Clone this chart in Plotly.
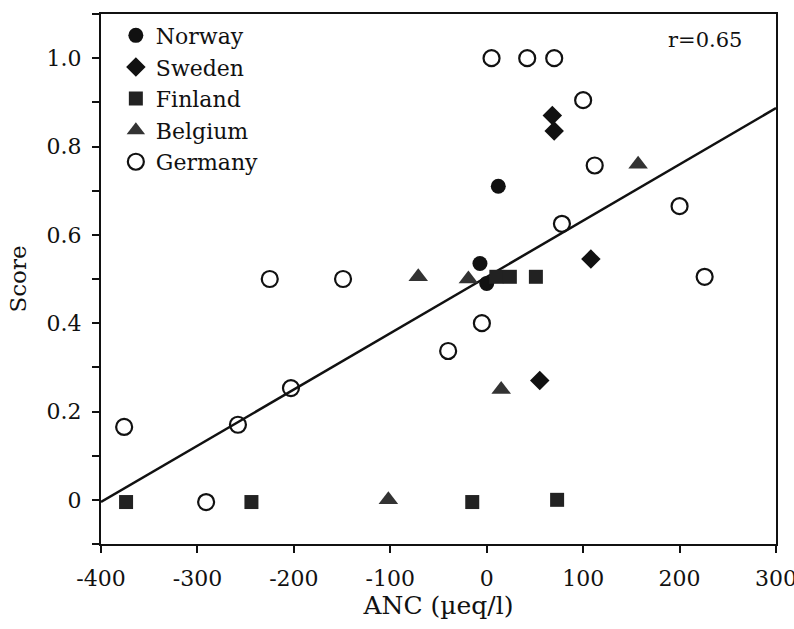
import plotly.graph_objects as go

# ---- data ----
norway_x = [12, -7, 0]
norway_y = [0.71, 0.535, 0.49]

sweden_x = [68, 70, 108, 55]
sweden_y = [0.87, 0.835, 0.545, 0.27]

finland_x = [10, 24, 51, -374, -244, -15, 73]
finland_y = [0.505, 0.505, 0.505, -0.005, -0.005, -0.005, 0.0]

belgium_x = [-71, -19, 15, -102, 157]
belgium_y = [0.505, 0.50, 0.25, 0.0, 0.76]

germany_x = [-376, -291, -258, -203, -225, -149, -40, -5, 78, 200, 226, 112, 100, 5, 42, 70]
germany_y = [0.165, -0.005, 0.17, 0.253, 0.50, 0.50, 0.337, 0.40, 0.625, 0.665, 0.505, 0.757, 0.905, 1.0, 1.0, 1.0]

fit_x = [-400, 300]
fit_y = [-0.005, 0.887]

x_ticks = [-400, -300, -200, -100, 0, 100, 200, 300]
x_ticktext = ["-400", "-300", "-200", "-100", "0", "100", "200", "300"]
y_ticks = [-0.1, 0.0, 0.1, 0.2, 0.3, 0.4, 0.5, 0.6, 0.7, 0.8, 0.9, 1.0, 1.1]
y_ticktext = ["", "0", "", "0.2", "", "0.4", "", "0.6", "", "0.8", "", "1.0", ""]

FONT = "DejaVu Serif"

fig = go.Figure()

fig.add_trace(go.Scatter(x=fit_x, y=fit_y, mode="lines",
                         line=dict(color="#111111", width=2.5), showlegend=False,
                         hoverinfo="skip"))

fig.add_trace(go.Scatter(x=norway_x, y=norway_y, mode="markers", name="Norway",
                         marker=dict(symbol="circle", size=15, color="#111111",
                                     line=dict(width=0))))
fig.add_trace(go.Scatter(x=sweden_x, y=sweden_y, mode="markers", name="Sweden",
                         marker=dict(symbol="diamond", size=15, color="#111111",
                                     line=dict(width=0))))
fig.add_trace(go.Scatter(x=finland_x, y=finland_y, mode="markers", name="Finland",
                         marker=dict(symbol="square", size=14, color="#222222",
                                     line=dict(width=0))))
fig.add_trace(go.Scatter(x=belgium_x, y=belgium_y, mode="markers", name="Belgium",
                         marker=dict(symbol="triangle-up", size=17, color="#333333",
                                     line=dict(width=0))))
fig.add_trace(go.Scatter(x=germany_x, y=germany_y, mode="markers", name="Germany",
                         marker=dict(symbol="circle-open", size=16, color="#111111",
                                     line=dict(width=2.2, color="#111111"))))

fig.add_annotation(text="r=0.65", x=0.952, y=0.978, xref="paper", yref="paper",
                   xanchor="right", yanchor="top", showarrow=False,
                   font=dict(family=FONT, size=21, color="#111111"))

fig.update_layout(
    width=794, height=629,
    margin=dict(l=101, r=18, t=14, b=85),
    paper_bgcolor="white", plot_bgcolor="white",
    font=dict(family=FONT, size=22, color="#111111"),
    showlegend=True,
    legend=dict(x=0.022, y=0.999, xanchor="left", yanchor="top",
                bgcolor="rgba(0,0,0,0)", font=dict(family=FONT, size=22, color="#111111"),
                itemwidth=30, tracegroupgap=0),
    xaxis=dict(range=[-400, 300], tickmode="array", tickvals=x_ticks, ticktext=x_ticktext,
               showgrid=False, zeroline=False, showline=True, linecolor="#111111",
               linewidth=2, mirror=True, ticks="outside", ticklen=7, tickwidth=2,
               tickcolor="#111111", ticklabelstandoff=7, ticklabeloverflow="allow",
               automargin=False,
               tickfont=dict(family=FONT, size=22),
               title=dict(text="ANC (µeq/l)", font=dict(family=FONT, size=25), standoff=4)),
    yaxis=dict(range=[-0.1, 1.1], tickmode="array", tickvals=y_ticks, ticktext=y_ticktext,
               showgrid=False, zeroline=False, showline=True, linecolor="#111111",
               linewidth=2, mirror=True, ticks="outside", ticklen=7, tickwidth=2,
               tickcolor="#111111", ticklabelstandoff=6, automargin=False,
               tickfont=dict(family=FONT, size=22),
               title=dict(text="Score", font=dict(family=FONT, size=23), standoff=14)),
)

fig.write_html("out.html")
